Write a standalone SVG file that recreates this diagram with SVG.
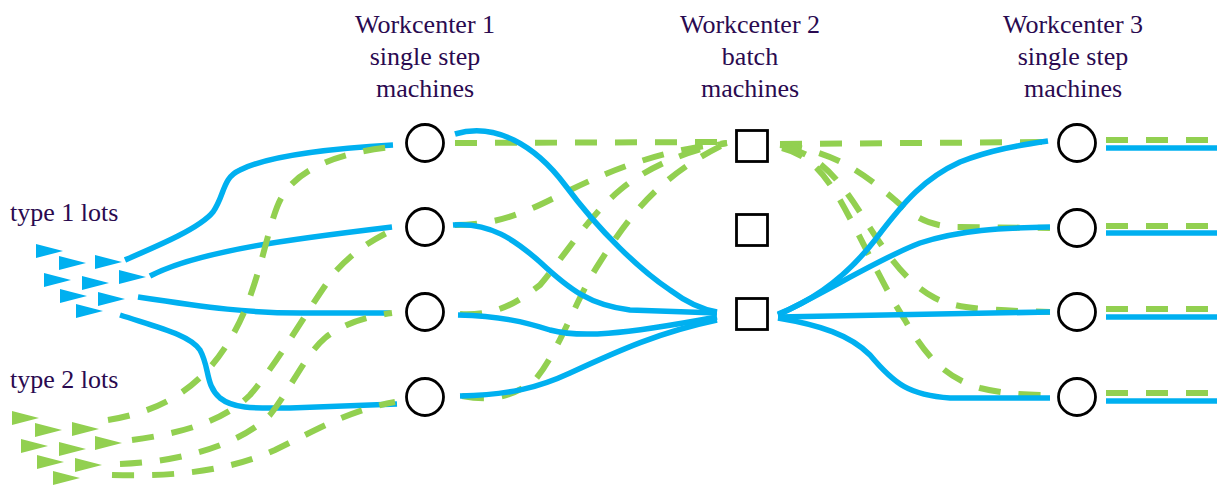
<svg xmlns="http://www.w3.org/2000/svg" width="1226" height="492" viewBox="0 0 1226 492">
<defs>
<style>
.lbl{font-size:26px;fill:#2a0a50}
.c{text-anchor:middle}
.b{fill:none;stroke:#00b0f0;stroke-width:5.5;stroke-linecap:butt}
.g{fill:none;stroke:#92d050;stroke-width:6;stroke-dasharray:22 18}
.m{fill:#fff;stroke:#000;stroke-width:2.8}
.t1{fill:#00b0f0}
.t2{fill:#92d050}
</style>
<polygon id="tri" points="0,-7 27,0 0,7"/>
</defs>
<rect width="1226" height="492" fill="#fff"/>

<g id="labels">
<text class="lbl c" x="425" y="33" style="font-family:'Liberation Serif'">Workcenter 1</text>
<text class="lbl c" x="425" y="65" style="font-family:'Liberation Serif'">single step</text>
<text class="lbl c" x="425" y="97" style="font-family:'Liberation Serif'">machines</text>
<text class="lbl c" x="750" y="33" style="font-family:'Liberation Serif'">Workcenter 2</text>
<text class="lbl c" x="750" y="65" style="font-family:'Liberation Serif'">batch</text>
<text class="lbl c" x="750" y="97" style="font-family:'Liberation Serif'">machines</text>
<text class="lbl c" x="1073" y="33" style="font-family:'Liberation Serif'">Workcenter 3</text>
<text class="lbl c" x="1073" y="65" style="font-family:'Liberation Serif'">single step</text>
<text class="lbl c" x="1073" y="97" style="font-family:'Liberation Serif'">machines</text>
<text class="lbl" x="10" y="221" style="font-family:'Liberation Serif'">type 1 lots</text>
<text class="lbl" x="10" y="388" style="font-family:'Liberation Serif'">type 2 lots</text>
</g>

<g id="connectors">
<path class="b" d="M125,260 C160,245 200,228 213,212 C225,195 222,178 240,170 C270,155 340,148 393,145"/>
<path class="b" d="M150,276 C200,250 300,238 392,227"/>
<path class="b" d="M138,297 C210,308 250,313 300,313 L390,313"/>
<path class="b" d="M120,315 C160,328 190,335 200,350 C210,368 205,385 220,398 C235,410 260,408 290,408 L397,404"/>
<path class="g" d="M108,420 C170,410 215,380 245,310 C265,260 270,215 283,195 C300,168 340,152 393,147"/>
<path class="g" d="M132,440 C185,433 225,420 250,395 C280,360 310,305 335,272 C355,250 375,238 397,228"/>
<path class="g" d="M120,464 C180,462 240,445 270,415 C290,390 305,355 325,338 C345,322 370,316 392,313"/>
<path class="g" d="M112,475 C180,477 230,470 275,450 C320,428 350,410 395,402"/>
<path class="g" d="M455,143 L727,142"/>
<path class="g" d="M455,225 C500,225 530,210 560,195 C610,170 660,150 727,143"/>
<path class="g" d="M460,314 C500,316 520,300 540,285 C565,255 590,215 620,190 C650,165 690,150 727,143"/>
<path class="g" d="M462,396 C495,402 515,395 535,380 C560,350 575,300 600,262 C630,215 660,175 727,143"/>
<path class="b" d="M455,134 C495,122 535,145 565,185 C600,232 640,270 670,290 C690,305 705,310 717,312"/>
<path class="b" d="M453,225 C490,222 515,240 540,262 C570,290 590,305 630,310 L717,313"/>
<path class="b" d="M458,315 C500,316 525,322 550,330 C580,338 620,335 717,317"/>
<path class="b" d="M460,396 C510,395 540,387 570,373 C620,350 660,332 717,320"/>
<path class="g" d="M780,144 L1050,142"/>
<path class="g" d="M780,145 C830,150 860,170 895,200 C915,218 930,227 960,227 L1050,228"/>
<path class="g" d="M785,147 C820,155 840,180 865,220 C890,260 910,285 935,298 C955,308 980,310 1050,312"/>
<path class="g" d="M782,148 C810,155 825,175 840,200 C860,235 885,290 905,320 C925,355 945,378 980,388 C1000,393 1020,395 1050,395"/>
<path class="b" d="M778,314 C820,298 850,272 875,240 C905,200 925,178 960,162 C990,150 1020,145 1048,141"/>
<path class="b" d="M778,315 C830,290 880,258 920,243 C960,230 1000,228 1050,227"/>
<path class="b" d="M778,317 L1050,312"/>
<path class="b" d="M778,318 C820,325 850,335 870,355 C895,385 910,395 950,398 L1050,398"/>
<path class="g" d="M1106,140 L1217,140"/>
<path class="b" d="M1106,148 L1217,148"/>
<path class="g" d="M1106,226 L1217,226"/>
<path class="b" d="M1106,233 L1217,233"/>
<path class="g" d="M1106,309 L1217,309"/>
<path class="b" d="M1106,317 L1217,317"/>
<path class="g" d="M1106,393 L1217,393"/>
<path class="b" d="M1106,401 L1217,401"/>
</g>

<g id="type1-lots" class="t1">
<use href="#tri" x="36" y="251"/>
<use href="#tri" x="59" y="263"/>
<use href="#tri" x="95" y="262"/>
<use href="#tri" x="44" y="280"/>
<use href="#tri" x="82" y="283"/>
<use href="#tri" x="119" y="277"/>
<use href="#tri" x="60" y="296"/>
<use href="#tri" x="98" y="299"/>
<use href="#tri" x="76" y="311"/>
</g>
<g id="type2-lots" class="t2">
<use href="#tri" x="12" y="418"/>
<use href="#tri" x="35" y="430"/>
<use href="#tri" x="72" y="429"/>
<use href="#tri" x="21" y="446"/>
<use href="#tri" x="59" y="449"/>
<use href="#tri" x="95" y="443"/>
<use href="#tri" x="37" y="462"/>
<use href="#tri" x="75" y="465"/>
<use href="#tri" x="53" y="478"/>
</g>

<g id="wc1-m1"><circle class="m" cx="425" cy="143" r="18.5"/></g>
<g id="wc1-m2"><circle class="m" cx="425" cy="227" r="18.5"/></g>
<g id="wc1-m3"><circle class="m" cx="425" cy="312" r="18.5"/></g>
<g id="wc1-m4"><circle class="m" cx="425" cy="397" r="18.5"/></g>

<g id="wc2-m1"><rect class="m" x="736.5" y="130.5" width="31" height="31"/></g>
<g id="wc2-m2"><rect class="m" x="736.5" y="214.5" width="31" height="31"/></g>
<g id="wc2-m3"><rect class="m" x="736.5" y="298.5" width="31" height="31"/></g>

<g id="wc3-m1"><circle class="m" cx="1077" cy="143" r="18.5"/></g>
<g id="wc3-m2"><circle class="m" cx="1077" cy="228" r="18.5"/></g>
<g id="wc3-m3"><circle class="m" cx="1077" cy="312" r="18.5"/></g>
<g id="wc3-m4"><circle class="m" cx="1077" cy="397" r="18.5"/></g>
</svg>
